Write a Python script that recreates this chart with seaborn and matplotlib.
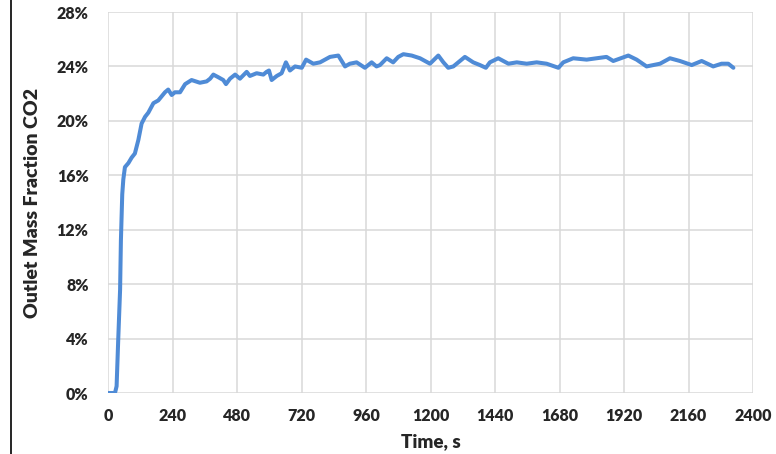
import pandas as pd
import seaborn as sns
import matplotlib.pyplot as plt
from matplotlib.lines import Line2D
from matplotlib.ticker import PercentFormatter

# time in seconds, outlet CO2 mass fraction in %
time_s = [0, 10, 20, 26, 32, 38, 45, 48, 53, 57, 63, 76, 88, 100, 113, 125, 138, 150,
          169, 187, 212, 224, 237, 249, 268, 287, 311, 342, 367, 380, 392, 411, 429,
          439, 454, 473, 491, 516, 528, 553, 578, 590, 599, 609, 628, 646, 662, 677,
          696, 721, 737, 764, 789, 826, 857, 882, 900, 925, 956, 981, 999, 1012, 1037,
          1061, 1080, 1099, 1130, 1161, 1198, 1229, 1248, 1266, 1285, 1328, 1359, 1384,
          1406, 1421, 1452, 1490, 1521, 1558, 1595, 1632, 1676, 1694, 1731, 1781, 1855,
          1880, 1936, 1967, 2004, 2054, 2091, 2128, 2172, 2209, 2252, 2283, 2308, 2327]
co2_pct = [0.0, 0.0, 0.0, 0.0, 0.5, 3.9, 7.6, 11.2, 14.6, 15.7, 16.6, 16.9, 17.3, 17.6,
           18.6, 19.8, 20.3, 20.6, 21.3, 21.5, 22.1, 22.3, 21.9, 22.1, 22.1, 22.7, 23.0,
           22.8, 22.9, 23.1, 23.4, 23.2, 23.0, 22.7, 23.1, 23.4, 23.1, 23.6, 23.3, 23.5,
           23.4, 23.6, 23.7, 23.0, 23.3, 23.5, 24.3, 23.7, 24.0, 23.9, 24.5, 24.2, 24.3,
           24.7, 24.8, 24.0, 24.2, 24.3, 23.9, 24.3, 24.0, 24.1, 24.6, 24.3, 24.7, 24.9,
           24.8, 24.6, 24.2, 24.8, 24.3, 23.9, 24.0, 24.7, 24.3, 24.1, 23.9, 24.3, 24.6,
           24.2, 24.3, 24.2, 24.3, 24.2, 23.9, 24.3, 24.6, 24.5, 24.7, 24.4, 24.8, 24.5,
           24.0, 24.2, 24.6, 24.4, 24.1, 24.4, 24.0, 24.2, 24.2, 23.9]

x_ticks = list(range(0, 2401, 240))
y_ticks = list(range(0, 29, 4))

df = pd.DataFrame({"time": time_s, "co2": co2_pct})

sns.set_style("white")
plt.rcParams['font.family'] = ['Lato', 'DejaVu Sans']

fig = plt.figure(figsize=(7.76, 4.54), dpi=100)
ax = fig.add_axes([108 / 776, 61 / 454, 645 / 776, 381 / 454])

sns.lineplot(data=df, x="time", y="co2", ax=ax, color="#4f8bd6", linewidth=2.9)

ax.set_xlim(0, 2400)
ax.set_ylim(0, 28)
ax.set_xticks(x_ticks)
ax.set_yticks(y_ticks)
ax.yaxis.set_major_formatter(PercentFormatter(decimals=0))
ax.grid(True, color="#d9d9d9", linewidth=1.1)
ax.set_axisbelow(True)
for s in ax.spines.values():
    s.set_visible(False)
ax.tick_params(length=0, labelsize=11.5)
ax.tick_params(axis="y", pad=14)
ax.tick_params(axis="x", pad=11)
for lab in ax.get_xticklabels() + ax.get_yticklabels():
    lab.set_fontweight("heavy")

ax.set_xlabel("Time, s", fontsize=13.5, fontweight="heavy", labelpad=6)
ax.set_ylabel("Outlet Mass Fraction CO2", fontsize=14, fontweight="heavy", labelpad=11)

# thin black border line on the left of the image
fig.add_artist(Line2D([11 / 776, 11 / 776], [0, 1], color="black", linewidth=1.2,
                      transform=fig.transFigure))

fig.savefig("out.png", dpi=100)
